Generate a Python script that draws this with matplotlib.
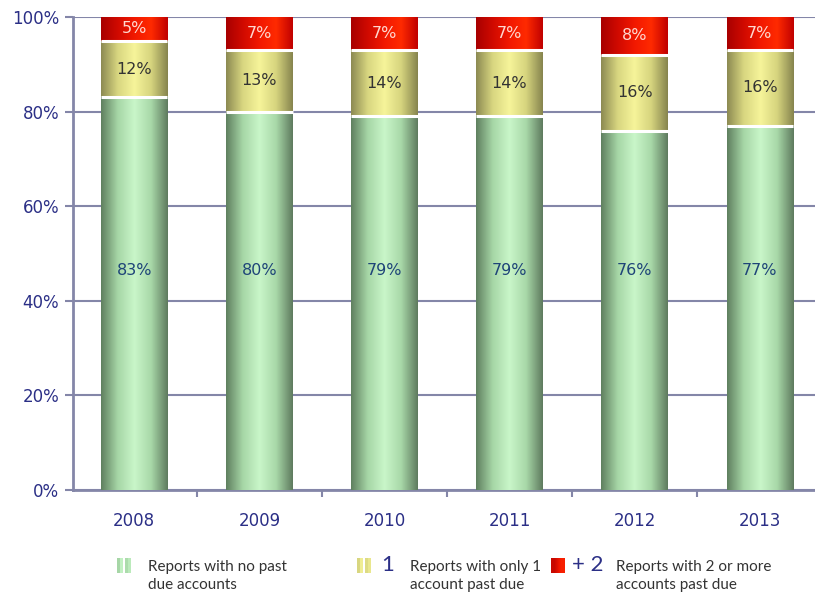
import matplotlib
matplotlib.use('Agg')
import matplotlib.pyplot as plt
import numpy as np
from matplotlib.colors import LinearSegmentedColormap

years = ['2008', '2009', '2010', '2011', '2012', '2013']
no_past_due = [83, 80, 79, 79, 76, 77]
one_past_due = [12, 13, 14, 14, 16, 16]
two_or_more = [5, 7, 7, 7, 8, 7]

legend_labels = ['Reports with no past\ndue accounts',
                 'Reports with only 1\naccount past due',
                 'Reports with 2 or more\naccounts past due']
legend_marks = ['', '1', '+ 2']

AXIS_COLOR = '#8486A8'
TICK_COLOR = '#2B2F86'
FONT = 'DejaVu Sans'

# cylinder shading: dark edge -> light centre -> dark edge
green_cmap = LinearSegmentedColormap.from_list('g', ['#5F7F5F', '#A6D6A6', '#C9F6C9', '#A8D8A8', '#5E7A5E'])
yellow_cmap = LinearSegmentedColormap.from_list('y', ['#8C8A52', '#D8D680', '#F6F49A', '#D6D47E', '#86844E'])
red_cmap = LinearSegmentedColormap.from_list('r', ['#A80000', '#D00A00', '#F21800', '#FF2A00', '#C00000'])

gradient = np.linspace(0, 1, 256).reshape(1, -1)

fig = plt.figure(figsize=(8.15, 6.0), dpi=100)
ax = fig.add_axes([73 / 815, 110 / 600, 748 / 815, 473 / 600])

x = np.arange(len(years))
width = 0.53


def shaded_bar(xc, bottom, height, cmap, sep=True):
    ax.imshow(gradient, extent=[xc - width / 2, xc + width / 2, bottom, bottom + height],
              aspect='auto', cmap=cmap, zorder=3, interpolation='bilinear')
    if sep:
        ax.plot([xc - width / 2, xc + width / 2], [bottom + height, bottom + height],
                color='white', lw=2.2, zorder=4, solid_capstyle='butt')


for i in range(len(years)):
    g, y, r = no_past_due[i], one_past_due[i], two_or_more[i]
    shaded_bar(x[i], 0, g, green_cmap)
    shaded_bar(x[i], g, y, yellow_cmap)
    shaded_bar(x[i], g + y, r, red_cmap, sep=False)
    # green labels sit a little above the middle of the cylinder
    ax.text(x[i], 46.5, '%d%%' % g, ha='center', va='center', fontsize=11.5,
            color='#1E4478', zorder=5, family=FONT)
    ax.text(x[i], g + y / 2, '%d%%' % y, ha='center', va='center', fontsize=11.5,
            color='#333333', zorder=5, family=FONT)
    ax.text(x[i], g + y + r / 2, '%d%%' % r, ha='center', va='center', fontsize=11.5,
            color='#FFD8D0', zorder=5, family=FONT)

ax.set_xlim(-0.49, len(years) - 0.51)
ax.set_ylim(0, 100)

ax.set_yticks(range(0, 101, 20))
ax.set_yticklabels(['%d%%' % v for v in range(0, 101, 20)], family=FONT)
ax.yaxis.grid(True, color=AXIS_COLOR, lw=1.5, zorder=0)
ax.set_axisbelow(True)

ax.set_xticks(x)
ax.set_xticklabels(years, family=FONT)
ax.set_xticks(np.arange(0.5, len(years) - 0.5), minor=True)
ax.tick_params(axis='x', which='major', length=0, pad=16, labelsize=12, labelcolor=TICK_COLOR)
ax.tick_params(axis='x', which='minor', length=5, width=1.5, color=AXIS_COLOR, direction='out')
ax.tick_params(axis='y', length=6, width=1.5, color=AXIS_COLOR, labelsize=12,
               labelcolor=TICK_COLOR, pad=4)

for side in ('top', 'right'):
    ax.spines[side].set_visible(False)
for side in ('left', 'bottom'):
    ax.spines[side].set_color(AXIS_COLOR)
    ax.spines[side].set_linewidth(2)

# legend drawn by hand below the axes
swatch_cmaps = [green_cmap, yellow_cmap, red_cmap]
swatch_x = [117, 357, 551]
mark_x = [None, 381, 572]
text_x = [148, 410, 616]
stripes = np.ma.masked_invalid(np.array([[0.25, 0.55, np.nan, 0.3, 0.6]]))
for k in range(3):
    sax = fig.add_axes([swatch_x[k] / 815, (600 - 573) / 600, 14 / 815, 15 / 600])
    if k < 2:
        sax.imshow(stripes, aspect='auto', cmap=swatch_cmaps[k], interpolation='nearest',
                   vmin=0, vmax=1)
    else:
        sax.imshow(np.array([[0.2, 0.6]]), aspect='auto', cmap=red_cmap,
                   interpolation='bilinear', vmin=0, vmax=1)
    sax.set_axis_off()
    if legend_marks[k]:
        fig.text(mark_x[k] / 815, 1 - 565 / 600, legend_marks[k], fontsize=16,
                 color=TICK_COLOR, va='center', ha='left', family='Lato')
    fig.text(text_x[k] / 815, 1 - 576 / 600, legend_labels[k], fontsize=11,
             color='#333333', va='center', ha='left', family='Lato', linespacing=1.3)

fig.savefig('out.png', dpi=100)
